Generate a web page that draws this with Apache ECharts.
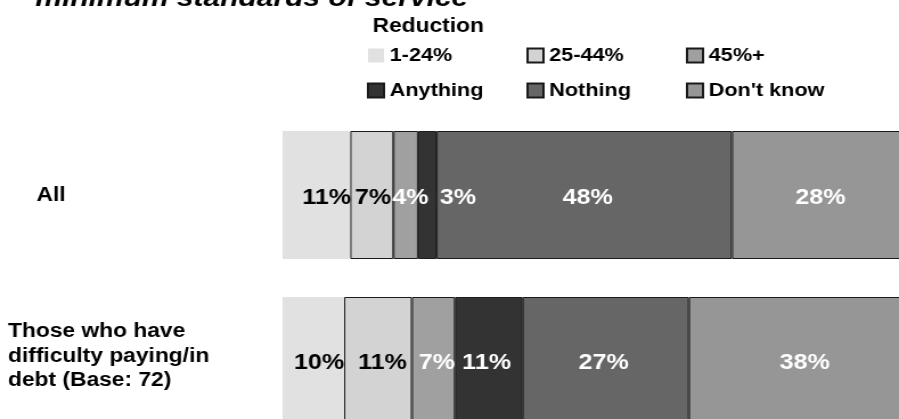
<!DOCTYPE html>
<html>
<head>
<meta charset="utf-8">
<script src="https://cdn.jsdelivr.net/npm/echarts@6/dist/echarts.min.js"></script>
<style>
  html, body { margin: 0; padding: 0; background: #fff; overflow: hidden; }
  #wrap { width: 899px; height: 419px; overflow: hidden; position: relative; }
  /* the chart is drawn narrower and stretched horizontally; the bars run past the visible edge */
  #chart { width: 830px; height: 460px; transform: scaleX(1.1394); transform-origin: 0 0; }
</style>
</head>
<body>
<div id="wrap"><div id="chart"></div></div>
<script>
const categories = ['All', 'Those who have\ndifficulty paying/in\ndebt (Base: 72)'];
const seriesNames = ['1-24%', '25-44%', '45%+', 'Anything', 'Nothing', "Don't know"];
const reduction1to24 = [11, 10];
const reduction25to44 = [7, 11];
const reduction45plus = [4, 7];
const anything = [3, 11];
const nothing = [48, 27];
const dontKnow = [28, 38];

const seriesValues = [reduction1to24, reduction25to44, reduction45plus, anything, nothing, dontKnow];
const fills = ['#e1e1e1', '#d3d3d3', '#a0a0a0', '#333333', '#666666', '#969696'];
const labelColors = ['#000', '#000', '#fff', '#fff', '#fff', '#fff'];
// horizontal nudges for value labels that sit on narrow segments: [series][category]
const labelNudge = [[9, 5], [1, 4], [4, 3], [27, -2], [3, -2], [2, -1]];
const FONT = '"Liberation Sans", Arial, sans-serif';

const chart = echarts.init(document.getElementById('chart'), null, { renderer: 'canvas' });

chart.setOption({
  animation: false,
  backgroundColor: '#fff',
  title: [
    {
      text: 'minimum standards of service',
      left: 31, top: -14, padding: 0,
      textStyle: { fontFamily: FONT, fontSize: 26.3, fontWeight: 'bold', fontStyle: 'italic', color: '#000' }
    },
    {
      text: 'Reduction',
      left: 327, top: 16, padding: 0,
      textStyle: { fontFamily: FONT, fontSize: 20, fontWeight: 'bold', color: '#000' }
    }
  ],
  legend: {
    data: seriesNames,
    left: 322, top: 45, width: 420, padding: 0,
    orient: 'horizontal',
    icon: 'rect',
    itemWidth: 14, itemHeight: 14, itemGap: 14,
    textStyle: { fontFamily: FONT, fontSize: 19, fontWeight: 'bold', color: '#000', width: 106, lineHeight: 21 }
  },
  grid: { left: 248, top: 112, width: 562, height: 332, containLabel: false },
  xAxis: { type: 'value', min: 0, max: 104, show: false },
  yAxis: {
    type: 'category', data: categories, inverse: true,
    axisLine: { show: false }, axisTick: { show: false }, splitLine: { show: false },
    axisLabel: {
      align: 'left', margin: 241,
      fontFamily: FONT, fontSize: 20, fontWeight: 'bold', color: '#000', lineHeight: 24.5,
      formatter: (v) => v === 'All' ? '{a|All}' : '{b|' + v + '}',
      rich: {
        a: { fontFamily: FONT, fontSize: 20, fontWeight: 'bold', color: '#000', padding: [0, 0, 0, 25] },
        b: { fontFamily: FONT, fontSize: 20, fontWeight: 'bold', color: '#000', lineHeight: 24.5, padding: [0, 0, 10, 0] }
      }
    }
  },
  series: seriesNames.map((name, i) => ({
    name, type: 'bar', stack: 'total', barWidth: 128,
    data: seriesValues[i].map((v, j) => ({
      value: v,
      label: { offset: [labelNudge[i][j], j === 0 ? 3 : 2] }
    })),
    itemStyle: i === 0
      ? { color: fills[i], borderWidth: 0 }
      : { color: fills[i], borderColor: '#1a1a1a', borderWidth: 1 },
    label: {
      show: true, position: 'inside',
      formatter: (p) => p.value + '%',
      fontFamily: FONT, fontSize: 22, fontWeight: 'bold', color: labelColors[i]
    }
  }))
});
</script>
</body>
</html>
